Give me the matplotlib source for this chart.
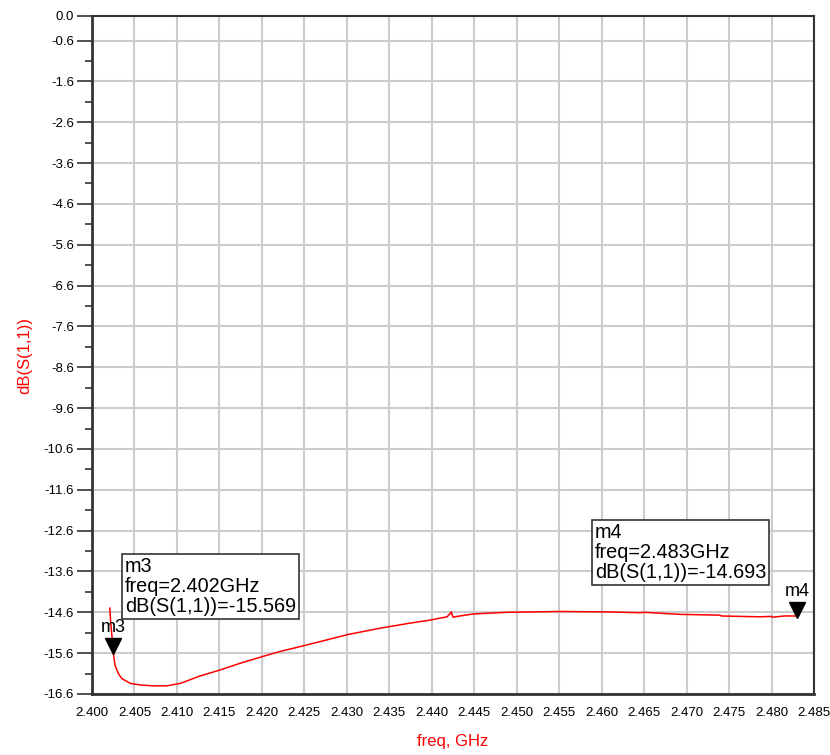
import matplotlib
matplotlib.use("Agg")
import matplotlib.pyplot as plt, numpy as np
import matplotlib.transforms as mtransforms

plt.rcParams['font.family'] = ['Liberation Sans', 'DejaVu Sans']

# trace (freq in GHz, dB(S(1,1)))
freq = [2.4021, 2.4022, 2.4024, 2.4025, 2.4027, 2.4031, 2.4035, 2.4045, 2.4057, 2.4072,
        2.4088, 2.4104, 2.4127, 2.4151, 2.4174, 2.4198, 2.4221, 2.4245, 2.4268, 2.4300,
        2.4339, 2.4370, 2.4398, 2.4418, 2.4422, 2.4423, 2.4425, 2.4430, 2.4449, 2.4488,
        2.4519, 2.4551, 2.4606, 2.4645, 2.4650, 2.4692, 2.4739, 2.4741, 2.4786, 2.4800,
        2.4801, 2.4815, 2.4830]
s11 = [-14.50, -14.85, -15.30, -15.57, -15.89, -16.10, -16.22, -16.34, -16.38, -16.40,
       -16.40, -16.34, -16.16, -16.01, -15.85, -15.70, -15.56, -15.44, -15.32, -15.15,
       -14.99, -14.88, -14.79, -14.71, -14.62, -14.59, -14.72, -14.70, -14.64, -14.60,
       -14.59, -14.58, -14.59, -14.61, -14.60, -14.65, -14.67, -14.69, -14.71, -14.70,
       -14.72, -14.69, -14.69]

markers = ['m3', 'm4']
marker_freq = [2.402, 2.483]
marker_val = [-15.569, -14.693]
marker_point = [(2.4025, -15.569), (2.4830, -14.693)]
box_pos = [(2.40385, -13.25), (2.4592, -12.42)]

yticks = [0.0] + [-0.6 - i for i in range(17)]
xticks = np.round(np.arange(2.400, 2.4851, 0.005), 3)

fig = plt.figure(figsize=(8.3, 7.55), dpi=100)
ax = fig.add_axes([92/830, 1 - 694/755, 722/830, 678/755])

ax.plot(freq, s11, color='#ff0000', lw=1.1, zorder=3)

ax.set_xlim(2.400, 2.485)
ax.set_ylim(-16.6, 0.0)
ax.set_xticks(xticks)
ax.set_xticklabels(['%.3f' % t for t in xticks])
ax.set_yticks(yticks)
ax.set_yticklabels(['%.1f' % t for t in yticks])
ax.set_yticks([-1.1 - i for i in range(16)], minor=True)
ax.grid(True, color='#cccccc', lw=1.5)
ax.set_axisbelow(True)
ax.tick_params(axis='x', length=0, pad=9, labelsize=9.5)
ax.tick_params(axis='y', which='major', length=11, width=1.2, color='#333333', labelsize=9.5, pad=2)
ax.tick_params(axis='y', which='minor', length=5, width=1.2, color='#333333')
for s in ax.spines.values():
    s.set_color('#333333')
    s.set_linewidth(1.5)
ax.spines['left'].set_linewidth(2)
ax.spines['bottom'].set_linewidth(2)

ax.set_xlabel('freq, GHz', color='#ff0000', fontsize=12, labelpad=11)
ax.set_ylabel('dB(S(1,1))', color='#ff0000', fontsize=12, labelpad=8)

# marker triangles with the tip on the trace
tri = mtransforms.offset_copy(ax.transData, fig=fig, x=0, y=6, units='dots')
lab = mtransforms.offset_copy(ax.transData, fig=fig, x=0, y=16, units='dots')
for name, (fx, fy), mf, mv, (bx, by) in zip(markers, marker_point, marker_freq, marker_val, box_pos):
    ax.plot([fx], [fy], marker='v', ms=12, color='black', transform=tri, zorder=5, clip_on=False)
    ax.text(fx, fy, name, transform=lab, ha='center', va='bottom', fontsize=13, zorder=5)
    ax.text(bx, by, '%s\nfreq=%.3fGHz\ndB(S(1,1))=%.3f' % (name, mf, mv),
            ha='left', va='top', fontsize=14.3, linespacing=1.05, zorder=6,
            bbox=dict(boxstyle='square,pad=0.15', fc='white', ec='#333333', lw=1.2))

fig.savefig('out.png', dpi=100)
